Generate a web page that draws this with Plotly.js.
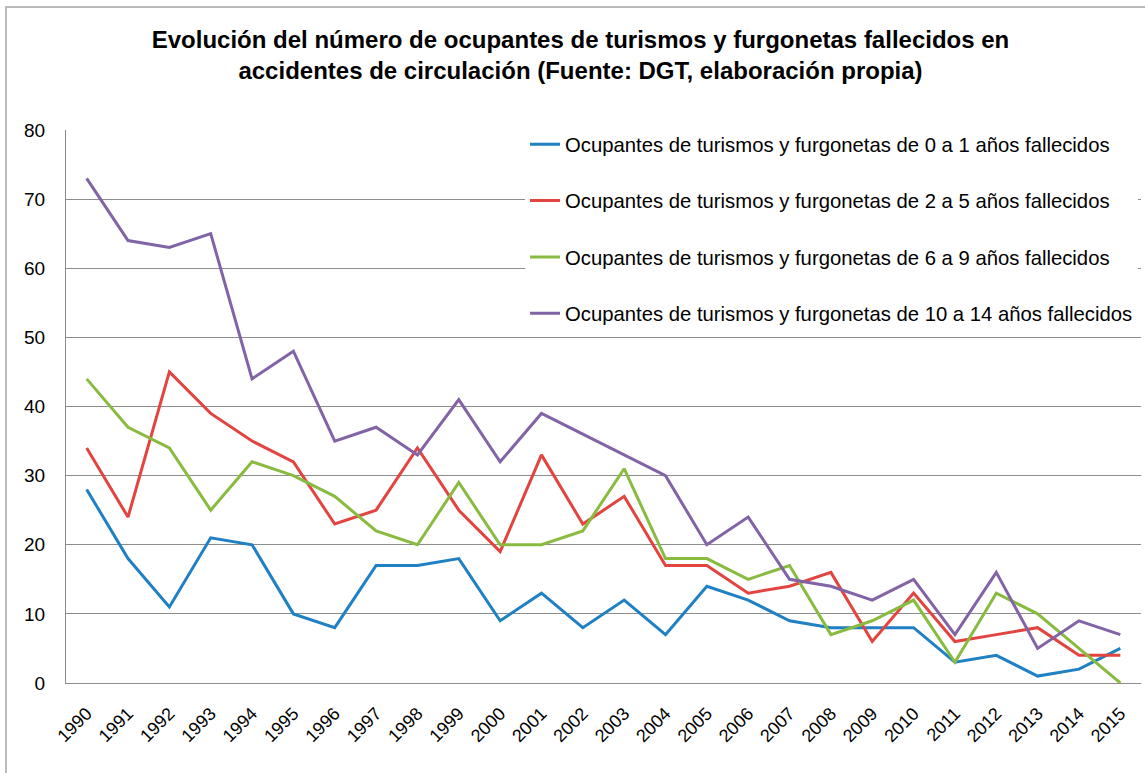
<!DOCTYPE html>
<html>
<head>
<meta charset="utf-8">
<script src="https://cdn.plot.ly/plotly-3.0.1.min.js"></script>
<style>html,body{margin:0;padding:0;background:#fff;}#chart{width:1145px;height:773px;}</style>
</head>
<body>
<div id="chart"></div>
<script>
const years = ["1990","1991","1992","1993","1994","1995","1996","1997","1998","1999","2000","2001","2002","2003","2004","2005","2006","2007","2008","2009","2010","2011","2012","2013","2014","2015"];
const edad0a1 = [28,18,11,21,20,10,8,17,17,18,9,13,8,12,7,14,12,9,8,8,8,3,4,1,2,5];
const edad2a5 = [34,24,45,39,35,32,23,25,34,25,19,33,23,27,17,17,13,14,16,6,13,6,7,8,4,4];
const edad6a9 = [44,37,34,25,32,30,27,22,20,29,20,20,22,31,18,18,15,17,7,9,12,3,13,10,5,0];
const edad10a14 = [73,64,63,65,44,48,35,37,33,41,32,39,36,33,30,20,24,15,14,12,15,7,16,5,9,7];
const seriesNames = [
  "Ocupantes de turismos y furgonetas de 0 a 1 años fallecidos",
  "Ocupantes de turismos y furgonetas de 2 a 5 años fallecidos",
  "Ocupantes de turismos y furgonetas de 6 a 9 años fallecidos",
  "Ocupantes de turismos y furgonetas de 10 a 14 años fallecidos"
];
const seriesColors = ["#1f80c3", "#e2443f", "#89bb41", "#8163a6"];
const seriesData = [edad0a1, edad2a5, edad6a9, edad10a14];

const FONT = "'Liberation Sans', Arial, sans-serif";
const traces = seriesData.map((d, i) => ({
  type: "scatter", mode: "lines", x: years, y: d, name: seriesNames[i],
  legendgroup: "g" + i,
  line: {color: seriesColors[i], width: 3}
}));

const layout = {
  width: 1145, height: 773,
  margin: {l: 66, r: 4, t: 130, b: 90},
  paper_bgcolor: "#fff", plot_bgcolor: "#fff",
  font: {family: FONT, color: "#000"},
  title: {
    text: "<b>Evolución del número de ocupantes de turismos y furgonetas fallecidos en<br>accidentes de circulación (Fuente: DGT, elaboración propia)</b>",
    font: {family: FONT, size: 24, color: "#000"},
    xref: "container", x: 0.507, xanchor: "center",
    yref: "container", y: 0.938, yanchor: "top"
  },
  xaxis: {
    type: "category", range: [-0.5, 25.5], tickangle: -45,
    showgrid: false, showline: true, linecolor: "#8c8c8c", linewidth: 1,
    ticks: "", tickfont: {family: FONT, size: 18}, ticklabelstandoff: 12,
    fixedrange: true
  },
  yaxis: {
    range: [0, 80], dtick: 10, showgrid: true, gridcolor: "#8c8c8c", gridwidth: 1,
    showline: true, linecolor: "#8c8c8c", linewidth: 1, zeroline: false,
    ticks: "", tickfont: {family: FONT, size: 19}, ticklabelstandoff: 16,
    fixedrange: true
  },
  showlegend: true,
  legend: {
    x: 0.427, xanchor: "left", y: 1.01, yanchor: "top",
    bgcolor: "#fff", borderwidth: 0,
    font: {family: FONT, size: 20.3, color: "#000"},
    traceorder: "grouped", tracegroupgap: 27
  },
  shapes: [{
    type: "rect", xref: "paper", yref: "paper",
    x0: -0.0558, x1: 1.05, y0: -0.3, y1: 1.2224,
    line: {color: "#a6a6a6", width: 1.5}, fillcolor: "rgba(0,0,0,0)", layer: "above"
  }]
};

Plotly.newPlot("chart", traces, layout, {displayModeBar: false, staticPlot: true});
</script>
</body>
</html>
